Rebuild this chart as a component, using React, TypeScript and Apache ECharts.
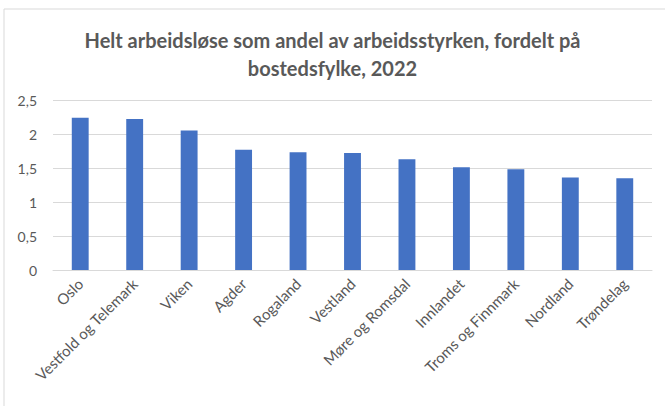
import React, { useEffect, useRef } from "react";
import * as echarts from "echarts";

const categories = [
  "Oslo",
  "Vestfold og Telemark",
  "Viken",
  "Agder",
  "Rogaland",
  "Vestland",
  "Møre og Romsdal",
  "Innlandet",
  "Troms og Finnmark",
  "Nordland",
  "Trøndelag",
];
const values = [2.24, 2.22, 2.05, 1.77, 1.73, 1.72, 1.63, 1.51, 1.48, 1.36, 1.35];
const titleText = "Helt arbeidsløse som andel av arbeidsstyrken, fordelt på\nbostedsfylke, 2022";

export default function App() {
  const ref = useRef<HTMLDivElement>(null);
  useEffect(() => {
    if (!ref.current) return;
    const chart = echarts.init(ref.current, undefined, { renderer: "svg" });
    chart.setOption({
      animation: false,
      backgroundColor: "#ffffff",
      textStyle: { fontFamily: "Lato, 'Liberation Sans', sans-serif" },
      graphic: [
        {
          type: "rect",
          shape: { x: 4, y: 9, width: 680, height: 420 },
          style: { fill: "none", stroke: "#d9d9d9", lineWidth: 1 },
          silent: true,
          z: -1,
        },
      ],
      title: {
        text: titleText,
        left: "center",
        top: 21,
        textStyle: {
          fontFamily: "Lato, 'Liberation Sans', sans-serif",
          fontWeight: "bold",
          fontSize: 20,
          color: "#595959",
          lineHeight: 28,
        },
      },
      grid: { left: 53, right: 13, top: 100, bottom: 136, containLabel: false },
      xAxis: {
        type: "category",
        data: categories,
        axisLine: { lineStyle: { color: "#d9d9d9", width: 1 } },
        axisTick: { show: false },
        axisLabel: {
          rotate: 45,
          interval: 0,
          color: "#595959",
          fontSize: 15,
          margin: 11,
          fontFamily: "Lato, 'Liberation Sans', sans-serif",
        },
      },
      yAxis: {
        type: "value",
        min: 0,
        max: 2.5,
        interval: 0.5,
        axisLine: { show: false },
        axisTick: { show: false },
        splitLine: { lineStyle: { color: "#d9d9d9", width: 1 } },
        axisLabel: {
          color: "#595959",
          fontSize: 14,
          margin: 16,
          fontFamily: "Lato, 'Liberation Sans', sans-serif",
          formatter: (v: number) => String(v).replace(".", ","),
        },
      },
      series: [
        {
          type: "bar",
          data: values,
          barWidth: "31%",
          itemStyle: { color: "#4472c4" },
        },
      ],
    });
    return () => chart.dispose();
  }, []);
  return (
    <div
      ref={ref}
      style={{ position: "absolute", left: 0, top: 0, width: 665, height: 406 }}
    />
  );
}
